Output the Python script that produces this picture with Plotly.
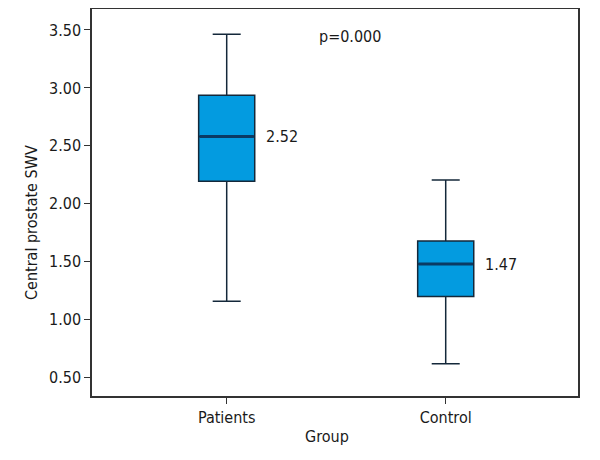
import plotly.graph_objects as go

groups = ["Patients", "Control"]
group_pos = [0, 1]
lower_whisker = [1.16, 0.62]
q1 = [2.195, 1.20]
median = [2.58, 1.48]
q3 = [2.937, 1.679]
upper_whisker = [3.463, 2.206]
median_labels = ["2.52", "1.47"]
y_ticks = [0.5, 1.0, 1.5, 2.0, 2.5, 3.0, 3.5]
y_ticklabels = ["0.50", "1.00", "1.50", "2.00", "2.50", "3.00", "3.50"]

FONT = "DejaVu Sans Condensed, Liberation Sans Narrow, Open Sans, sans-serif"
FS = 16
BOX_W = 0.256

# page body has an 8px margin, so the figure is drawn 8px in from the top-left
PLOT_L, PLOT_R, PLOT_T, PLOT_B = 92, 578, 9, 396
PAGE_OFF = 8

fig = go.Figure()
fig.add_trace(go.Box(
    x=group_pos, q1=q1, median=median, q3=q3,
    lowerfence=lower_whisker, upperfence=upper_whisker,
    width=BOX_W, whiskerwidth=0.5,
    fillcolor="#039BE0", line=dict(color="#14283a", width=1.5),
    boxpoints=False, showlegend=False, hoverinfo="skip",
))
# darker, thicker median lines
for xp, m in zip(group_pos, median):
    fig.add_trace(go.Scatter(
        x=[xp - BOX_W / 2 + 0.004, xp + BOX_W / 2 - 0.004], y=[m, m],
        mode="lines", line=dict(color="#0b3a63", width=3),
        showlegend=False, hoverinfo="skip",
    ))

for xp, m, lab in zip(group_pos, median, median_labels):
    fig.add_annotation(x=xp + 0.17, y=m, text=lab, showarrow=False,
                       xanchor="left", yanchor="middle",
                       font=dict(family=FONT, size=FS, color="#1a1a1a"))

fig.add_annotation(x=0.411, y=3.44, text="p=0.000", showarrow=False,
                   xanchor="left", yanchor="middle",
                   font=dict(family=FONT, size=FS, color="#1a1a1a"))

pw, ph = PLOT_R - PLOT_L, PLOT_B - PLOT_T
# axis titles
fig.add_annotation(xref="paper", yref="paper", x=(327 - PLOT_L) / pw, y=(PLOT_B - 437) / ph,
                   text="Group", showarrow=False, xanchor="center", yanchor="middle",
                   font=dict(family=FONT, size=FS, color="#1a1a1a"))
fig.add_annotation(xref="paper", yref="paper", x=(32 - PLOT_L) / pw, y=(PLOT_B - 223) / ph,
                   text="Central prostate SWV", showarrow=False, textangle=-90,
                   xanchor="center", yanchor="middle",
                   font=dict(family=FONT, size=FS, color="#1a1a1a"))

fig.update_layout(
    width=600 - PAGE_OFF, height=460 - PAGE_OFF,
    margin=dict(l=PLOT_L - PAGE_OFF, r=600 - PLOT_R, t=PLOT_T - PAGE_OFF, b=460 - PLOT_B),
    paper_bgcolor="white", plot_bgcolor="white",
    font=dict(family=FONT, size=FS, color="#1a1a1a"),
    xaxis=dict(
        range=[-0.615, 1.604], tickmode="array", tickvals=group_pos, ticktext=groups,
        ticks="outside", ticklen=6, tickcolor="#333", showgrid=False, zeroline=False,
        showline=True, linecolor="#333", linewidth=1.5, mirror=True, automargin=False,
    ),
    yaxis=dict(
        range=[0.342, 3.681], tickmode="array", tickvals=y_ticks, ticktext=y_ticklabels,
        ticks="outside", ticklen=6, tickcolor="#333", showgrid=False, zeroline=False,
        showline=True, linecolor="#333", linewidth=1.5, mirror=True, automargin=False,
    ),
)

fig.write_html("out.html")
